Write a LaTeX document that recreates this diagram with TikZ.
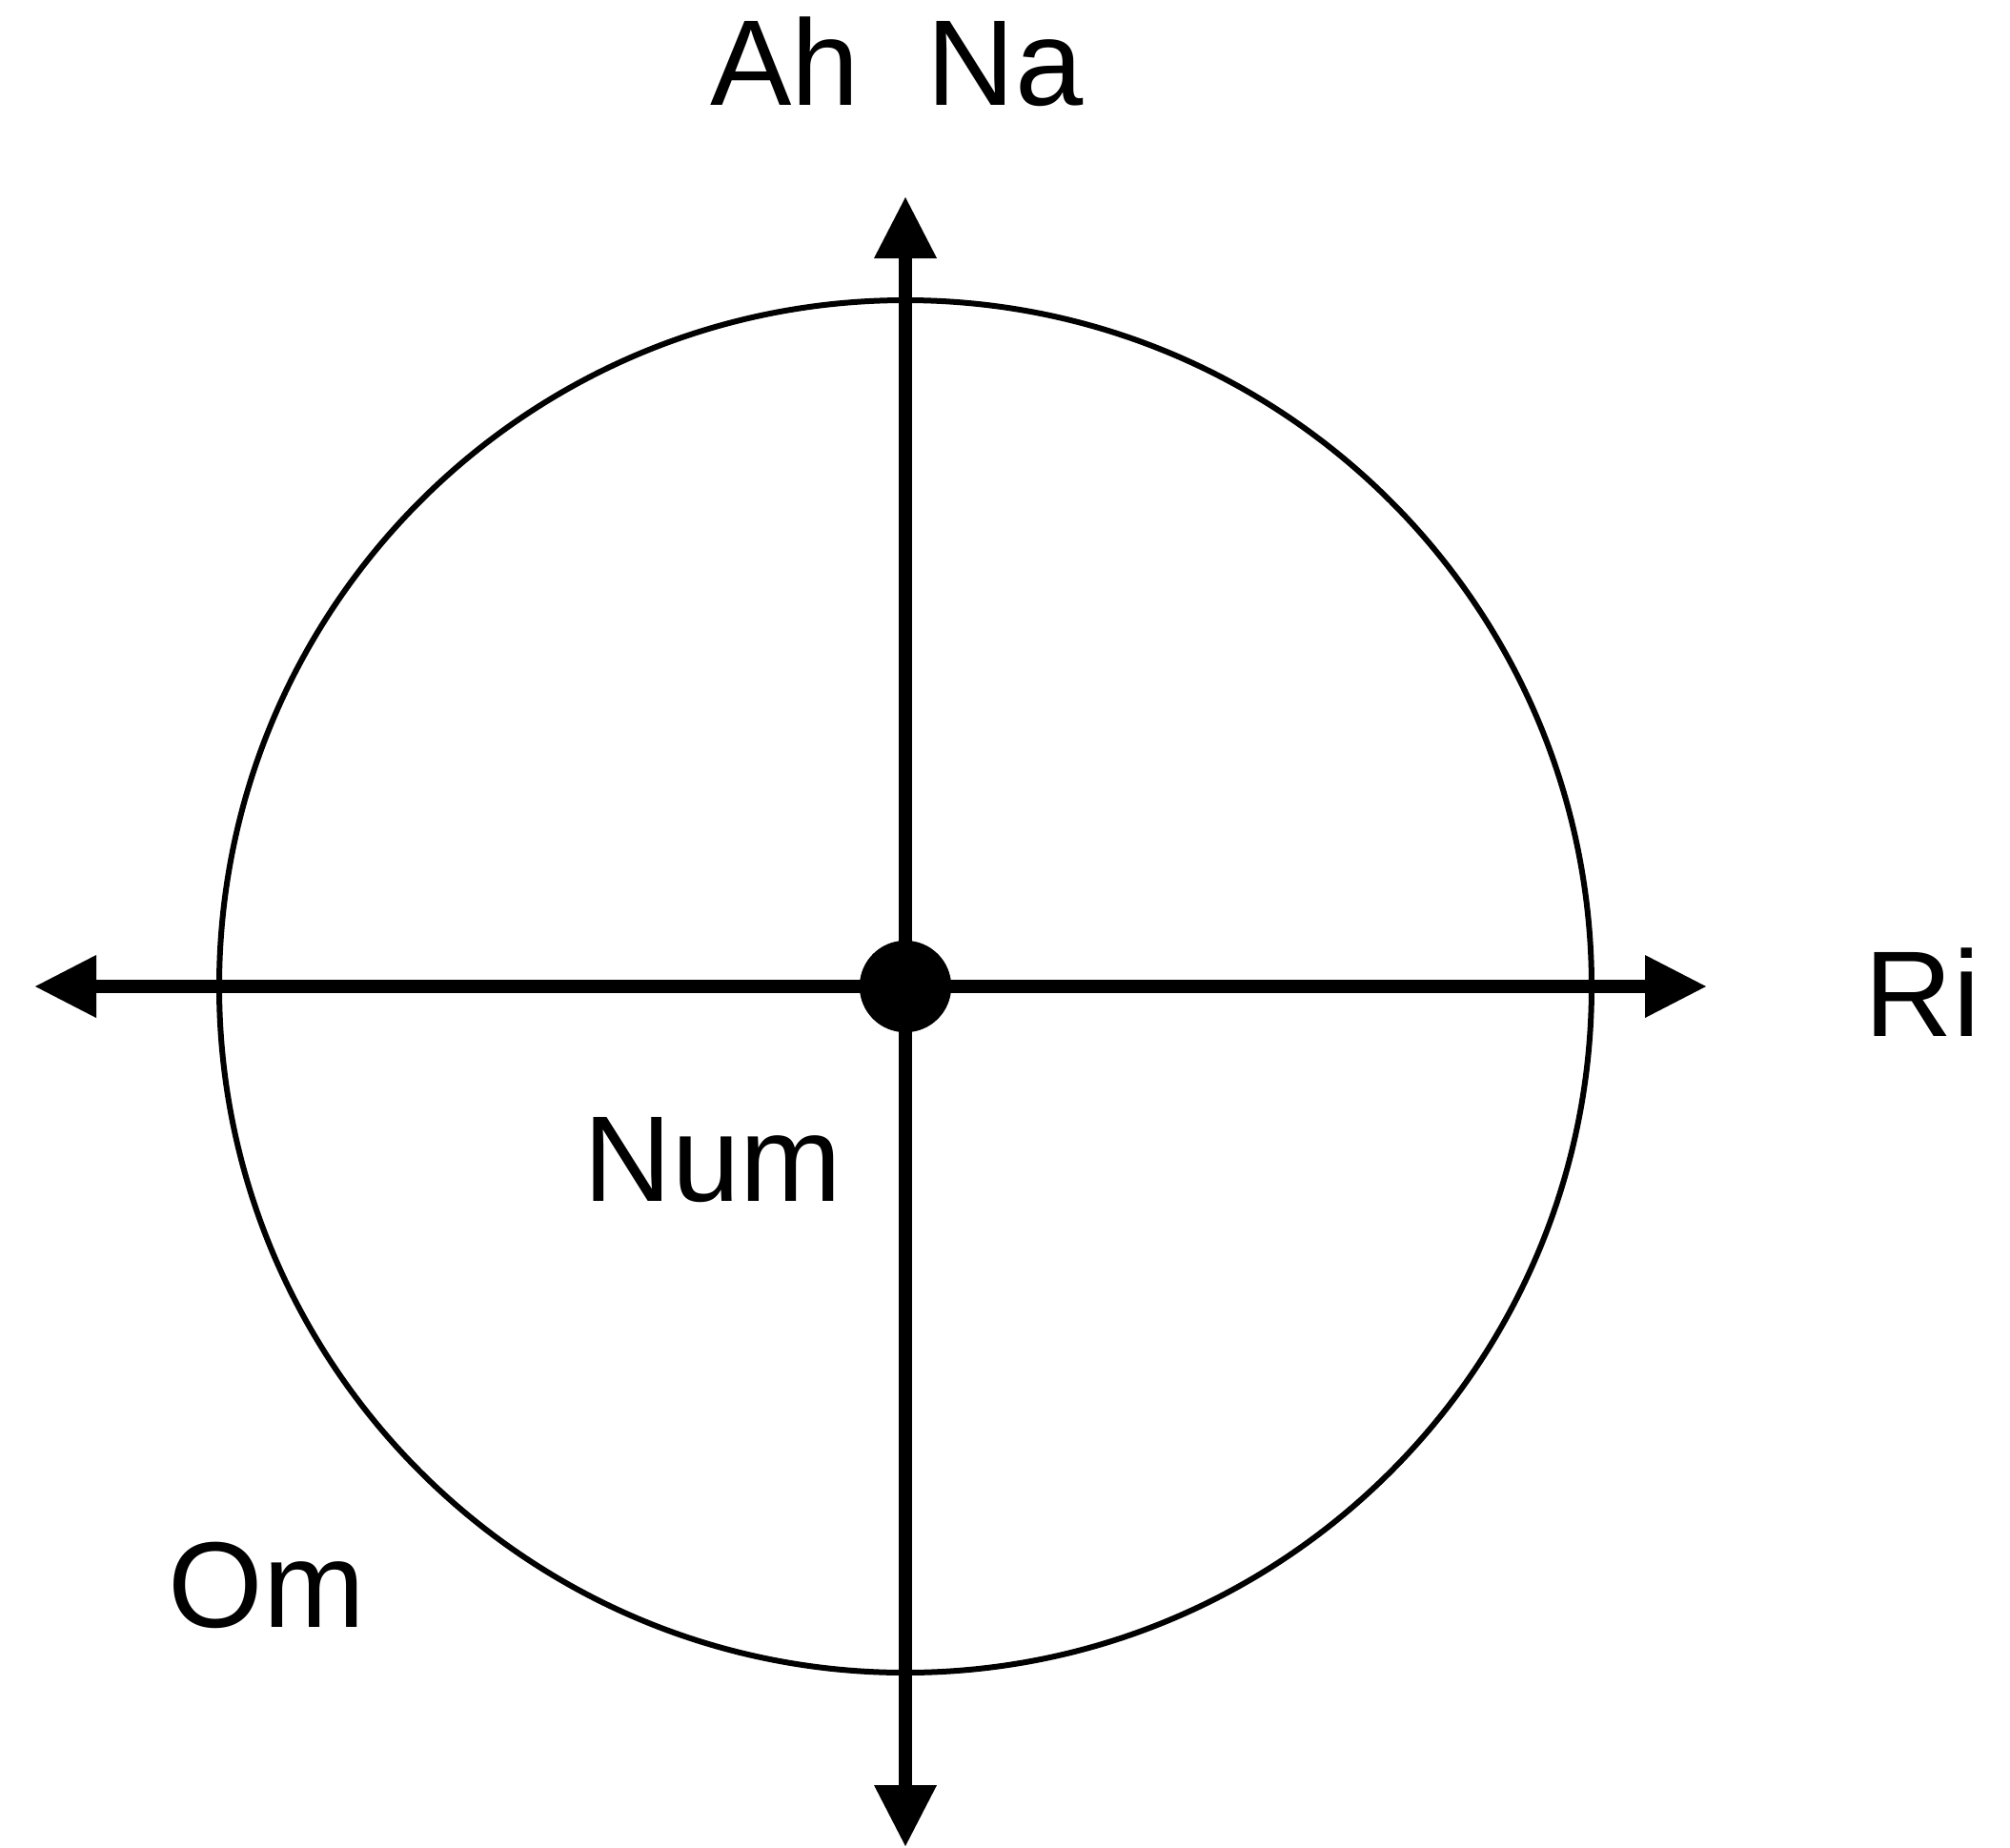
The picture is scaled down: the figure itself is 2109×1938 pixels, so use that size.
\documentclass[tikz,border=0pt]{standalone}
\usepackage{fontspec}
\setmainfont{Liberation Sans}
\usetikzlibrary{arrows.meta}
\begin{document}
\begin{tikzpicture}[x=0.5pt,y=-0.5pt,
  axis/.style={line width=7pt,-{Triangle[length=32pt,width=33pt,line width=0pt]}},
  lbl/.style={anchor=base,inner sep=0pt,font=\fontsize{64pt}{77pt}\selectfont},
  ring/.style={circle,draw,line width=3pt,minimum size=720pt,inner sep=0pt},
  dot/.style={circle,fill,minimum size=48pt,inner sep=0pt}]
\useasboundingbox (0,0) rectangle (2109,1938);
\node[ring] (ring) at (950,1035) {};
\coordinate (top) at (950,207);
\coordinate (bot) at (950,1937);
\coordinate (lft) at (37,1035);
\coordinate (rgt) at (1790,1035);
\node[dot] (o) at (950,1035) {};
\draw[axis] (o.center) -- (top);
\draw[axis] (o.center) -- (bot);
\draw[axis] (o.center) -- (lft);
\draw[axis] (o.center) -- (rgt);
\node[dot] (o2) at (950,1035) {};
\node[lbl] (ahna) at (941,110) {Ah\ \ Na};
\node[lbl] (ri) at (2017,1087) {Ri};
\node[lbl] (num) at (748,1260) {Num};
\node[lbl] (om) at (280,1707) {Om};
\end{tikzpicture}
\end{document}
